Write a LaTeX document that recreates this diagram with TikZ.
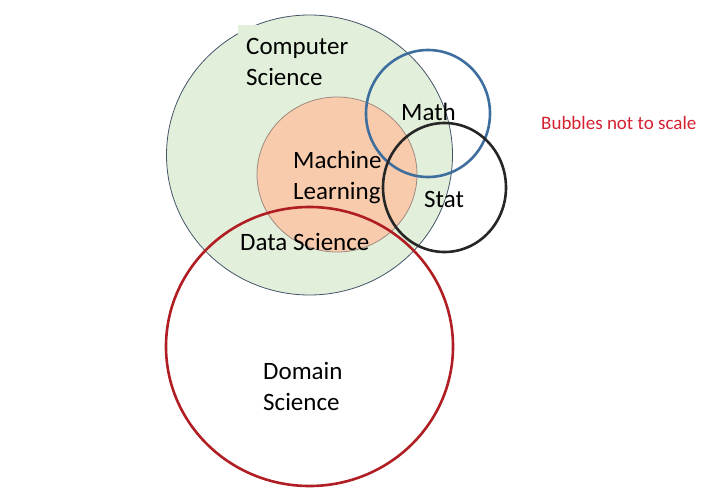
\documentclass[tikz,border=0pt]{standalone}
\usepackage{fontspec}
\setmainfont{Carlito}
\usetikzlibrary{positioning}
\definecolor{csfill}{HTML}{E2EFDA}
\definecolor{csline}{HTML}{44546A}
\definecolor{mlfill}{HTML}{F8CBAD}
\definecolor{mlline}{HTML}{9E8A80}
\definecolor{mathline}{HTML}{3E6E9E}
\definecolor{statline}{HTML}{262626}
\definecolor{domline}{HTML}{B01E23}
\definecolor{notered}{HTML}{D42030}
\begin{document}
\begin{tikzpicture}[x=1pt,y=-1pt,
  lbl/.style={anchor=base west,align=left,inner sep=0pt,
    font=\fontsize{25}{31}\selectfont},
  ring/.style={line width=2.6pt}]
\useasboundingbox (0,0) rectangle (726,498);

% bubbles
\draw[csline,fill=csfill,line width=0.8pt] (309.5,155) ellipse [x radius=143,y radius=140];
\fill[csfill] (238,25) rectangle (356,96);
\draw[mlline,fill=mlfill,line width=0.8pt] (337,174.5) ellipse [x radius=80,y radius=77.5];
\draw[ring,mathline] (428,113.5) ellipse [x radius=62,y radius=63.5];
\draw[ring,statline] (444.5,187.5) ellipse [x radius=61.5,y radius=64.5];
\draw[ring,domline] (309.5,346.5) ellipse [x radius=143.5,y radius=139.5];

% labels (base = last line)
\node[lbl] (cs) at (246,85) {Computer\\Science};
\node[lbl] (ml) at (293,199) {Machine\\Learning};
\node[lbl] (ds) at (240,250) {Data Science};
\node[lbl] (math) at (401,120) {Math};
\node[lbl] (stat) at (424,207) {Stat};
\node[lbl] (dom) at (263,410) {Domain\\Science};
\node[lbl,notered,font=\fontsize{19}{23}\selectfont] (note) at (541,129) {Bubbles not to scale};
\end{tikzpicture}
\end{document}
